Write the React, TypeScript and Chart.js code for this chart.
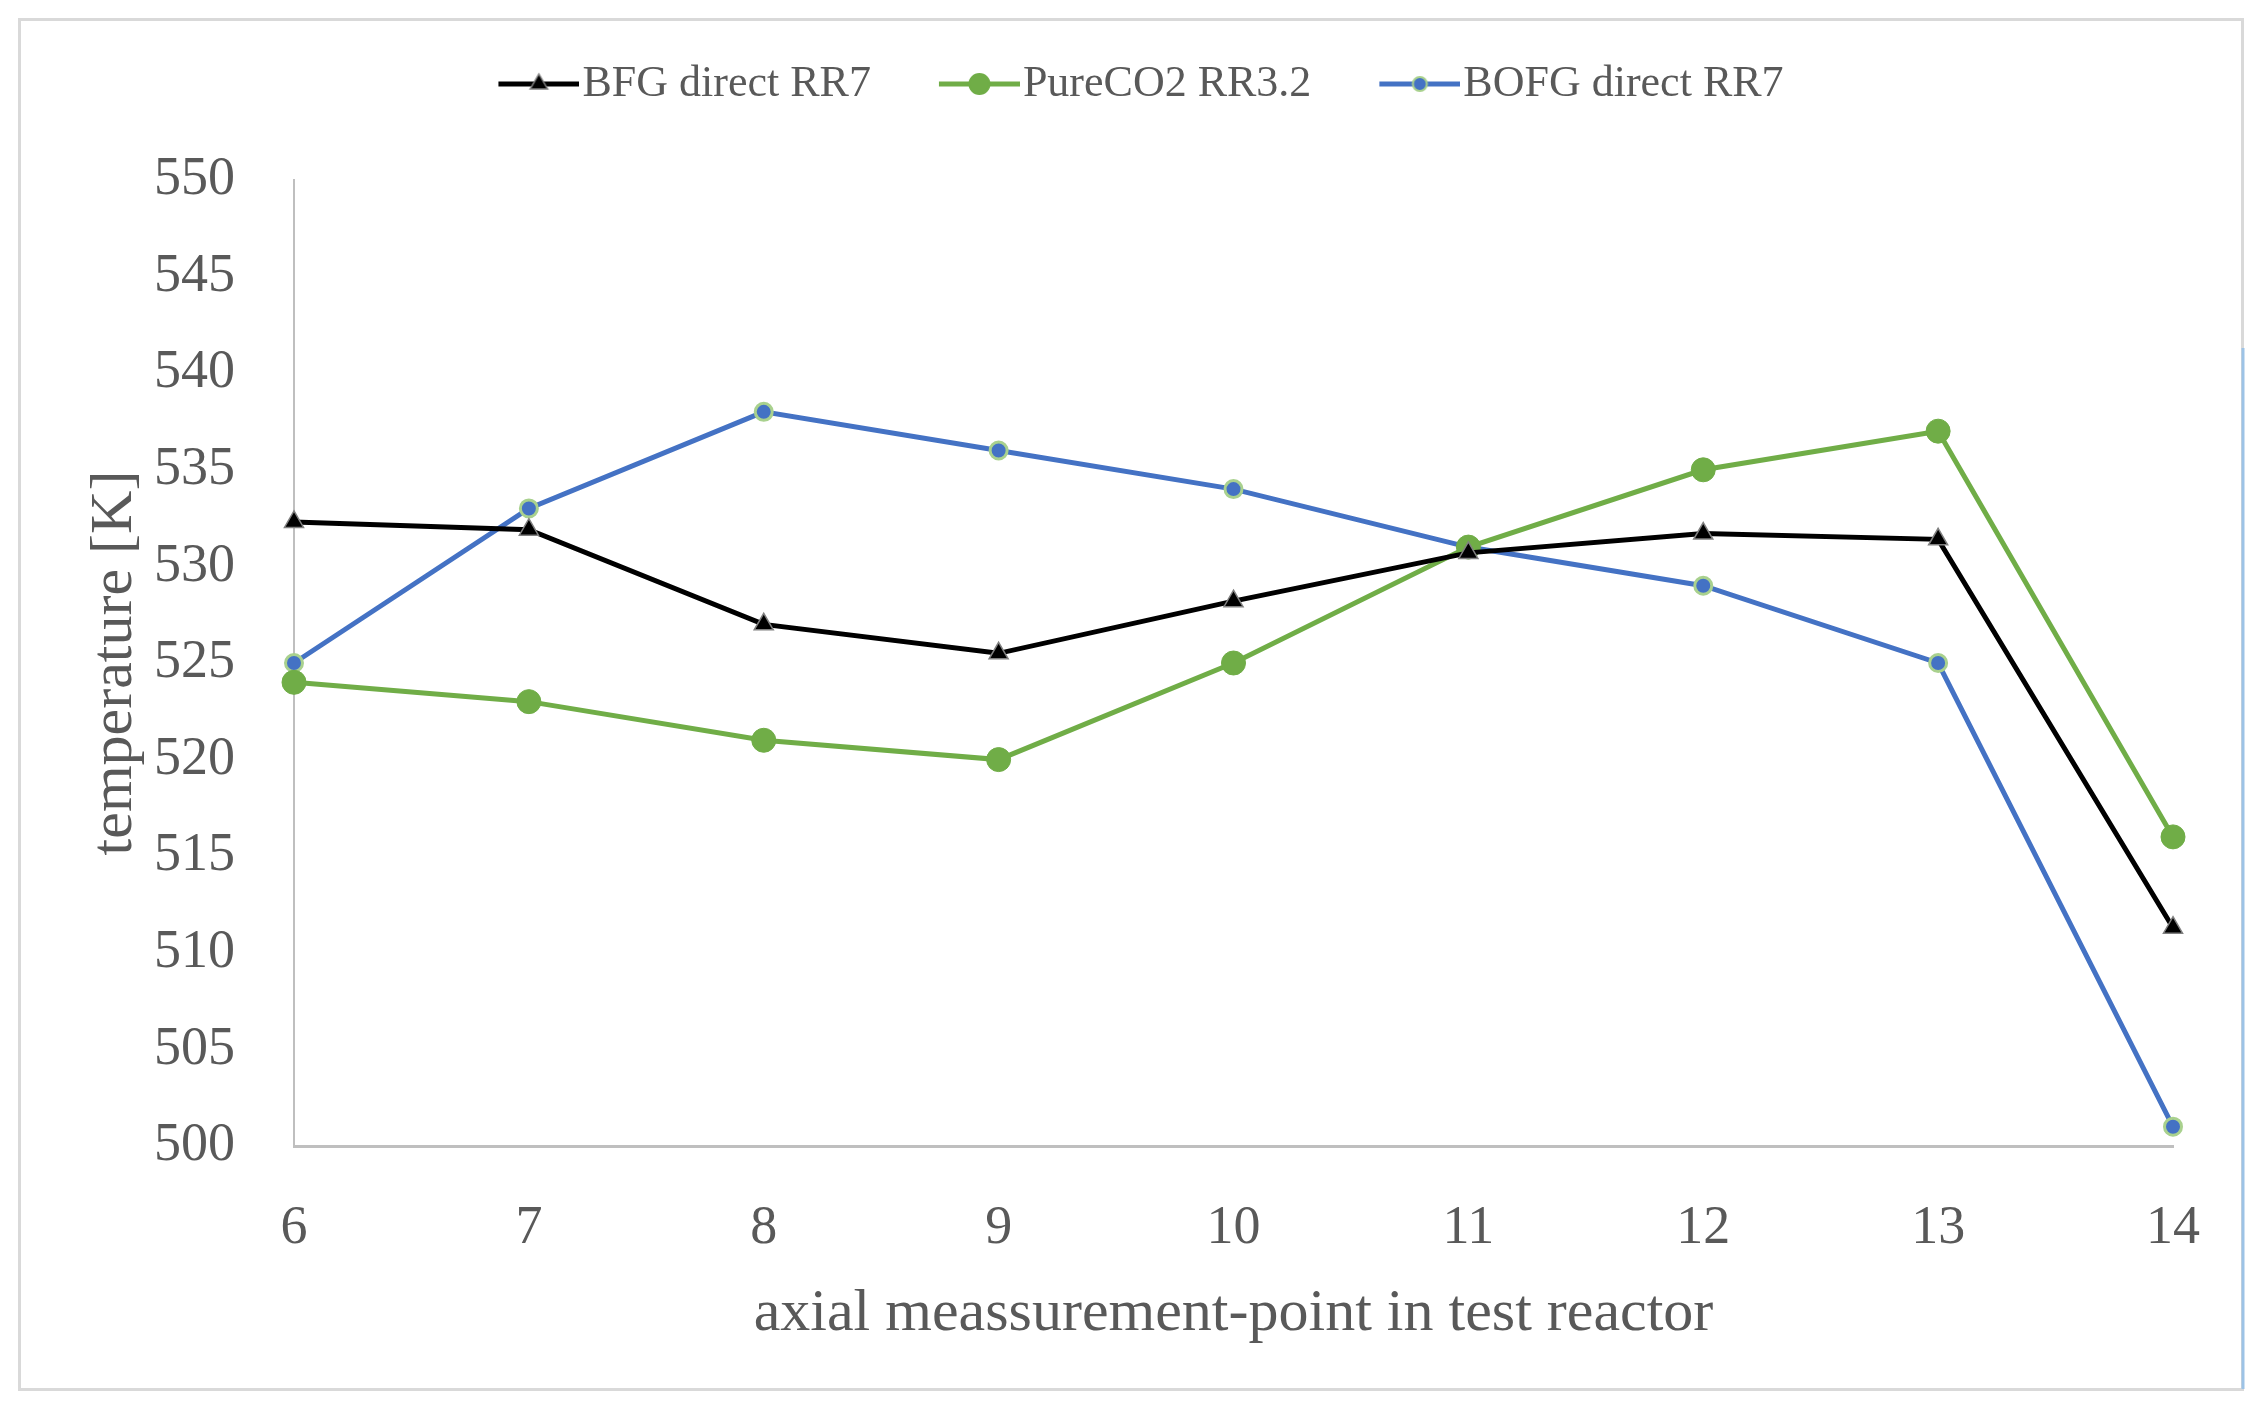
import React, { useEffect, useRef } from "react";
import { Chart, registerables } from "chart.js";

Chart.register(...registerables);

const categories = ["6", "7", "8", "9", "10", "11", "12", "13", "14"];
const bfgDirect = [532.3, 531.9, 527.0, 525.5, 528.2, 530.7, 531.7, 531.4, 511.3];
const pureCO2 = [524, 523, 521, 520, 525, 531, 535, 537, 516];
const bofgDirect = [525, 533, 538, 536, 534, 531, 529, 525, 501];
const seriesNames = ["BFG direct RR7", "PureCO2 RR3.2", "BOFG direct RR7"];
const yTicks = [500, 550, 5];

const FONT = "'Liberation Serif', 'Times New Roman', serif";
const GRAY_TEXT = "#595959";

function makeIcon(kind: string, line: string, fill: string, border: string) {
  const c = document.createElement("canvas");
  c.width = 100;
  c.height = 30;
  const ctx = c.getContext("2d")!;
  ctx.strokeStyle = line;
  ctx.lineWidth = 5;
  ctx.beginPath();
  ctx.moveTo(19, 15);
  ctx.lineTo(100, 15);
  ctx.stroke();
  const cx = 59.5;
  const cy = 15;
  ctx.fillStyle = fill;
  ctx.strokeStyle = border;
  if (kind === "triangle") {
    const r = 10;
    ctx.beginPath();
    ctx.moveTo(cx, cy - r);
    ctx.lineTo(cx + r * 0.866, cy + r * 0.5);
    ctx.lineTo(cx - r * 0.866, cy + r * 0.5);
    ctx.closePath();
    ctx.fill();
    ctx.lineWidth = 1.5;
    ctx.stroke();
  } else {
    const r = kind === "big" ? 10 : 7;
    ctx.beginPath();
    ctx.arc(cx, cy, r, 0, Math.PI * 2);
    ctx.fill();
    ctx.lineWidth = 2;
    ctx.stroke();
  }
  return c;
}

export default function App() {
  const ref = useRef<HTMLCanvasElement | null>(null);

  useEffect(() => {
    document.body.style.margin = "0";
    const icons = [
      makeIcon("triangle", "#000000", "#000000", "#808080"),
      makeIcon("big", "#70AD47", "#70AD47", "#70AD47"),
      makeIcon("small", "#4472C4", "#4472C4", "#A9D18E"),
    ];

    const frame = {
      id: "frame",
      beforeDraw(chart: any) {
        const ctx = chart.ctx;
        ctx.save();
        ctx.fillStyle = "#ffffff";
        ctx.fillRect(0, 0, chart.width, chart.height);
        ctx.strokeStyle = "#d9d9d9";
        ctx.lineWidth = 3;
        ctx.strokeRect(19.5, 19.5, 2223, 1370);
        ctx.strokeStyle = "#9dc3e6";
        ctx.beginPath();
        ctx.moveTo(2243, 348);
        ctx.lineTo(2243, 1389);
        ctx.stroke();
        ctx.restore();
      },
      beforeLayout(chart: any) {
        const lg = chart.legend;
        if (lg && !lg.__patched) {
          const orig = lg.fit;
          lg.fit = function () {
            orig.call(this);
            this.height += 64;
          };
          lg.__patched = true;
        }
      },
    };

    const chart = new Chart(ref.current!, {
      type: "line",
      data: {
        labels: categories,
        datasets: [
          {
            label: seriesNames[0],
            data: bfgDirect,
            borderColor: "#000000",
            backgroundColor: "#000000",
            borderWidth: 5,
            pointStyle: "triangle",
            pointRadius: 11,
            pointBackgroundColor: "#000000",
            pointBorderColor: "#808080",
            pointBorderWidth: 1.5,
            tension: 0,
          },
          {
            label: seriesNames[1],
            data: pureCO2,
            borderColor: "#70AD47",
            backgroundColor: "#70AD47",
            borderWidth: 5,
            pointStyle: "circle",
            pointRadius: 12,
            pointBackgroundColor: "#70AD47",
            pointBorderColor: "#70AD47",
            pointBorderWidth: 1,
            tension: 0,
          },
          {
            label: seriesNames[2],
            data: bofgDirect,
            borderColor: "#4472C4",
            backgroundColor: "#4472C4",
            borderWidth: 5,
            pointStyle: "circle",
            pointRadius: 8.5,
            pointBackgroundColor: "#4472C4",
            pointBorderColor: "#A9D18E",
            pointBorderWidth: 3,
            tension: 0,
          },
        ],
      },
      options: {
        responsive: false,
        animation: false,
        devicePixelRatio: 1,
        layout: { padding: { top: -6, left: 109, right: 84, bottom: 0 } },
        plugins: {
          tooltip: { enabled: false },
          legend: {
            display: true,
            position: "top",
            align: "center",
            labels: {
              color: GRAY_TEXT,
              font: { family: FONT, size: 44 },
              padding: 68,
              usePointStyle: true,
              pointStyleWidth: 62,
              generateLabels: (c: any) => {
                const items = (Chart as any).defaults.plugins.legend.labels.generateLabels(c);
                items.forEach((it: any, i: number) => {
                  it.pointStyle = icons[i];
                });
                return items;
              },
            },
          },
        },
        scales: {
          x: {
            type: "category",
            grid: { display: false, drawTicks: false },
            border: { display: true, color: "#bfbfbf", width: 3 },
            ticks: {
              color: GRAY_TEXT,
              font: { family: FONT, size: 54 },
              padding: 50,
              maxRotation: 0,
            },
            title: {
              display: true,
              text: "axial meassurement-point in test reactor",
              color: GRAY_TEXT,
              font: { family: FONT, size: 60, lineHeight: 1.2 },
              padding: { top: 0, bottom: 64 },
            },
            afterFit: (s: any) => {
              s.height = 268;
            },
          },
          y: {
            min: yTicks[0],
            max: yTicks[1],
            grid: { display: false, drawTicks: false },
            border: { display: true, color: "#bfbfbf", width: 2 },
            ticks: {
              stepSize: yTicks[2],
              color: GRAY_TEXT,
              font: { family: FONT, size: 54 },
              padding: 59,
            },
            title: {
              display: true,
              text: "temperature [K]",
              color: GRAY_TEXT,
              font: { family: FONT, size: 60, lineHeight: 1.2 },
              padding: { top: -30, bottom: 0 },
            },
            afterFit: (s: any) => {
              s.width = 185;
            },
          },
        },
      },
      plugins: [frame],
    } as any);

    return () => chart.destroy();
  }, []);

  return (
    <div style={{ width: 2257, height: 1414 }}>
      <canvas ref={ref} width={2257} height={1414} style={{ display: "block" }} />
    </div>
  );
}
